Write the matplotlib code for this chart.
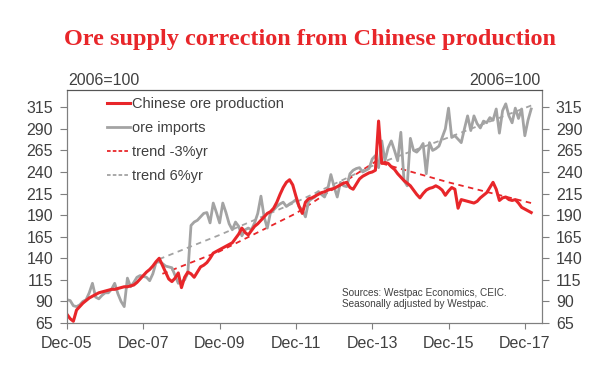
import matplotlib
matplotlib.use("Agg")
import matplotlib.pyplot as plt
from matplotlib.lines import Line2D

# ---------------- data (monthly, index 0 = Dec-05) ----------------
production = [75, 70, 67, 80, 84, 88, 91, 94, 96, 98, 100, 101, 102, 103, 104, 104,
              105, 106, 107, 107, 108, 109, 112, 116, 120, 124, 127, 131, 136, 140,
              132, 124, 116, 113, 117, 123, 106, 118, 124, 122, 118, 124, 130, 132,
              135, 140, 146, 148, 150, 152, 154, 156, 158, 163, 168, 175, 170, 167,
              172, 177, 180, 184, 188, 192, 194, 198, 205, 214, 222, 228, 231, 225,
              212, 200, 192, 205, 209, 210, 212, 214, 216, 217, 219, 220, 221, 223,
              225, 227, 228, 222, 220, 226, 232, 235, 237, 239, 240, 242, 299, 250,
              251, 250, 246, 243, 238, 234, 230, 227, 224, 219, 214, 210, 215, 219,
              221, 222, 224, 222, 219, 213, 218, 222, 220, 198, 208, 207, 206, 205,
              204, 206, 210, 213, 216, 222, 228, 220, 207, 210, 211, 208, 207, 208,
              204, 199, 197, 195, 193]

imports = [92, 91, 85, 84, 86, 90, 92, 100, 111, 95, 93, 97, 100, 100, 104, 111,
           99, 90, 84, 117, 107, 112, 118, 120, 119, 118, 114, 122, 135, 136,
           134, 131, 130, 129, 120, 111, 113, 115, 123, 178, 182, 184, 188, 192,
           193, 181, 204, 193, 181, 204, 193, 180, 173, 182, 177, 166, 173, 175,
           173, 181, 192, 212, 188, 175, 193, 196, 200, 203, 205, 200, 203, 205,
           208, 200, 196, 188, 206, 209, 211, 217, 214, 211, 220, 237, 223, 211,
           228, 224, 223, 238, 242, 244, 245, 240, 242, 244, 255, 259, 245, 276,
           253, 268, 276, 265, 253, 286, 230, 224, 279, 265, 263, 267, 273, 238,
           274, 265, 267, 270, 280, 290, 314, 280, 282, 278, 274, 290, 305, 288,
           305, 296, 291, 299, 297, 303, 300, 313, 285, 311, 319, 305, 297, 314,
           302, 313, 282, 300, 313]

# trend lines: values read at a few months
trend_prod_m = [30, 48, 72, 97, 120, 146]
trend_prod_v = [122, 148, 192, 252, 228, 204]
trend_imp_m = [29, 48, 72, 96, 120, 146]
trend_imp_v = [139, 167, 205, 247, 280, 317]

xtick_pos = [0, 24, 48, 72, 96, 120, 144]
xtick_labels = ["Dec-05", "Dec-07", "Dec-09", "Dec-11", "Dec-13", "Dec-15", "Dec-17"]
yticks = [65, 90, 115, 140, 165, 190, 215, 240, 265, 290, 315]

RED = "#E8262A"
GRAY = "#A3A3A3"
TXT = "#404040"

plt.rcParams["font.family"] = ["Liberation Sans", "DejaVu Sans"]

fig = plt.figure(figsize=(6.0, 3.68), dpi=100)
ax = fig.add_axes([67 / 600, 1 - 323 / 368, (542 - 67) / 600, (323 - 90) / 368])

m_prod = list(range(len(production)))
m_imp = list(range(len(imports)))

ax.plot(trend_imp_m, trend_imp_v, color=GRAY, lw=1.3, ls=(0, (3, 2.5)), zorder=2)
ax.plot(trend_prod_m, trend_prod_v, color=RED, lw=1.3, ls=(0, (3, 2.5)), zorder=2)
ax.plot(m_imp, imports, color=GRAY, lw=2.0, zorder=3, solid_joinstyle="round")
ax.plot(m_prod, production, color=RED, lw=2.2, zorder=4, solid_joinstyle="round")

ax.set_xlim(0, 149.4)
ax.set_ylim(65, 335)
ax.set_xticks(xtick_pos)
ax.set_xticklabels(xtick_labels)
ax.set_yticks(yticks)

ax2 = ax.twinx()
ax2.set_ylim(ax.get_ylim())
ax2.set_yticks(yticks)

for a in (ax, ax2):
    a.tick_params(axis="both", labelsize=11.5, colors="#7f7f7f", labelcolor=TXT,
                  length=5, width=0.8, direction="out", pad=5)
    for s in a.spines.values():
        s.set_color("#7f7f7f")
        s.set_linewidth(0.8)
ax.spines["top"].set_color("#555555")
ax2.spines["top"].set_color("#555555")
ax.tick_params(axis="x", length=4, pad=5)

handles = [
    Line2D([], [], color=RED, lw=2.2),
    Line2D([], [], color=GRAY, lw=2.0),
    Line2D([], [], color=RED, lw=1.3, ls=(0, (2, 1.2))),
    Line2D([], [], color=GRAY, lw=1.3, ls=(0, (2, 1.2))),
]
labels = ["Chinese ore production", "ore imports", "trend -3%yr", "trend 6%yr"]
leg = ax.legend(handles, labels, loc="upper left", bbox_to_anchor=(0.068, 1.0),
                frameon=False, fontsize=10.5, handlelength=1.6, handletextpad=0.15,
                labelspacing=0.68, borderaxespad=0.3, borderpad=0.2)
for t in leg.get_texts():
    t.set_color(TXT)

fig.text(68 / 600, 1 - 80.5 / 368, "2006=100", fontsize=11.5, color=TXT,
         ha="left", va="center")
fig.text(541 / 600, 1 - 80.5 / 368, "2006=100", fontsize=11.5, color=TXT,
         ha="right", va="center")

fig.text(342 / 600, 1 - 293 / 368, "Sources: Westpac Economics, CEIC.",
         fontsize=7.2, color=TXT, ha="left", va="center")
fig.text(342 / 600, 1 - 304 / 368, "Seasonally adjusted by Westpac.",
         fontsize=7.2, color=TXT, ha="left", va="center")

fig.text(0.516, 1 - 45 / 368, "Ore supply correction from Chinese production",
         fontsize=17.5, fontweight="bold", color=RED, ha="center", va="baseline",
         family=["Liberation Serif", "DejaVu Serif"])

fig.savefig("out.png", dpi=100)
